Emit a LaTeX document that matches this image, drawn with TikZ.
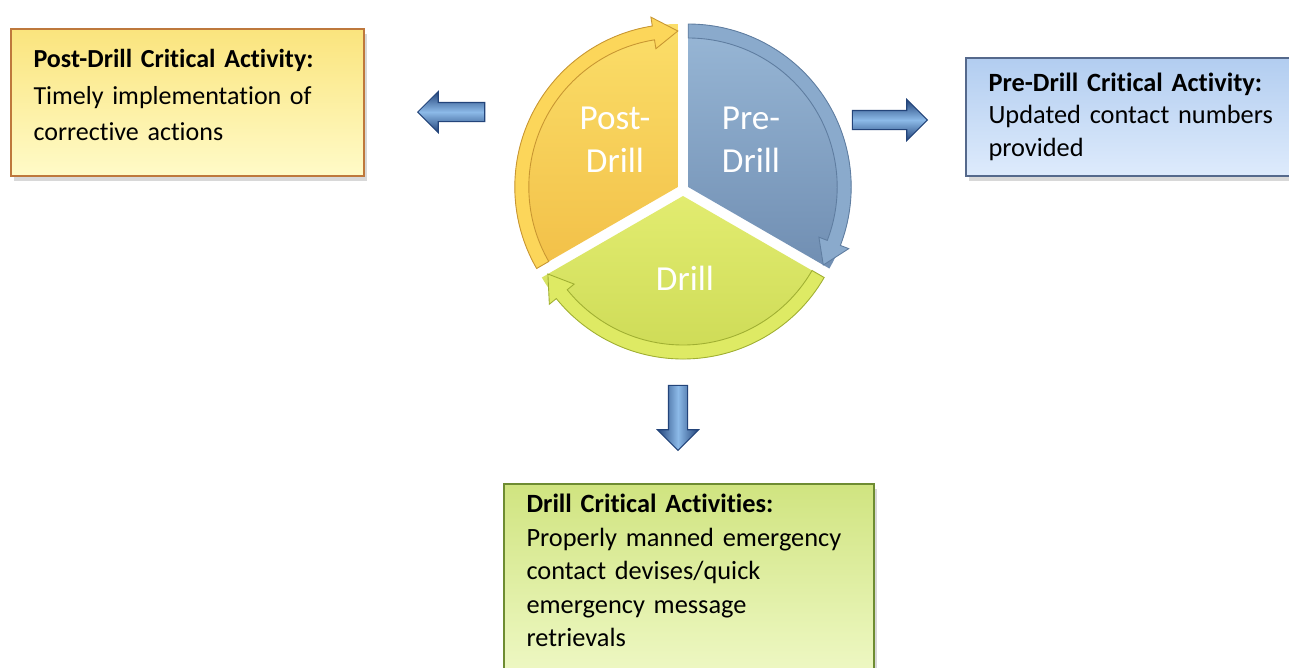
\documentclass[tikz,border=0pt]{standalone}
\usepackage{fontspec}
\setmainfont{Carlito}[Ligatures={NoCommon}]
\usepackage{xcolor}
\usetikzlibrary{shapes,arrows,positioning,calc,shadows}

\definecolor{postsegtop}{RGB}{251,222,105}
\definecolor{postsegbot}{RGB}{242,192,72}
\definecolor{postband}{RGB}{252,214,90}
\definecolor{postline}{RGB}{200,150,50}
\definecolor{presegtop}{RGB}{152,183,214}
\definecolor{presegbot}{RGB}{112,142,178}
\definecolor{preband}{RGB}{138,170,204}
\definecolor{preline}{RGB}{95,125,160}
\definecolor{drillsegtop}{RGB}{226,236,112}
\definecolor{drillsegbot}{RGB}{202,216,82}
\definecolor{drillband}{RGB}{222,234,100}
\definecolor{drillline}{RGB}{160,175,50}
\definecolor{arrowdark}{RGB}{35,68,122}
\definecolor{arrowlight}{RGB}{140,186,232}
\definecolor{postborder}{RGB}{190,120,60}
\definecolor{posttop}{RGB}{250,228,125}
\definecolor{postbot}{RGB}{255,251,200}
\definecolor{preborder}{RGB}{85,105,140}
\definecolor{pretop}{RGB}{178,205,240}
\definecolor{prebot}{RGB}{222,235,252}
\definecolor{drillborder}{RGB}{110,140,50}
\definecolor{drilltop}{RGB}{208,228,128}
\definecolor{drillbot}{RGB}{238,248,196}

\begin{document}
\begin{tikzpicture}[
    x=0.02cm, y=0.02cm,
    critbox/.style={rectangle, draw, line width=1.2pt, anchor=north west, align=left,
        inner xsep=0.45cm,
        drop shadow={opacity=0.3, shadow xshift=0.06cm, shadow yshift=-0.1cm}},
    postbox/.style={critbox, draw=postborder, top color=posttop, bottom color=postbot,
        font=\fontsize{14.8}{20.7}\selectfont},
    prebox/.style={critbox, draw=preborder, top color=pretop, bottom color=prebot,
        font=\fontsize{15}{18.5}\selectfont},
    drillbox/.style={critbox, draw=drillborder, top color=drilltop, bottom color=drillbot,
        font=\fontsize{15}{19.1}\selectfont},
    blockarrow/.style={single arrow, draw=arrowdark, line width=0.6pt, inner sep=0.18cm,
        minimum width=0.8cm, single arrow head extend=0.22cm},
    harrow/.style={blockarrow, top color=arrowdark, bottom color=arrowdark, middle color=arrowlight},
    varrow/.style={blockarrow, left color=arrowdark, right color=arrowdark, middle color=arrowlight},
    seglabel/.style={text=white, align=center, font=\fontsize{20}{24.4}\selectfont}
]
\useasboundingbox (0,0) rectangle (1289,-667);
\fill[white] (0,0) rectangle (1289,-667);

% Cycle segments (start angle / end angle / bisector / colours)
\foreach \a/\b/\bis/\ct/\cb/\cband/\cline in {
    210/90/150/postsegtop/postsegbot/postband/postline,
    90/-30/30/presegtop/presegbot/preband/preline,
    -30/-150/-90/drillsegtop/drillsegbot/drillband/drillline} {
  \begin{scope}[shift={($(683,-190)+(\bis:6)$)}]
    \shade[top color=\ct, bottom color=\cb] (0,0) -- (\a:163)
        arc[start angle=\a, end angle=\b, radius=163] -- cycle;
    \draw[fill=\cband, draw=\cline, line width=0.5pt] (\a:163)
        arc[start angle=\a, end angle=\b+9, radius=163] -- (\b+9:172) -- (\b:156)
        -- (\b+9:140) -- (\b+9:149)
        arc[start angle=\b+9, end angle=\a, radius=149] -- cycle;
  \end{scope}
}

\node[seglabel] (postlbl) at (615,-140) {Post-\\Drill};
\node[seglabel] (prelbl) at (751,-140) {Pre-\\Drill};
\node[seglabel] (drilllbl) at (685,-278) {Drill};

% Critical activity boxes
\node[postbox, text width=6.16cm, minimum height=2.94cm] (postact) at (10,-28)
    {\textbf{Post-Drill Critical Activity:}\\Timely implementation of\\corrective actions\rule[-0.3cm]{0pt}{0.3cm}};
\node[prebox, text width=5.7cm, minimum height=2.36cm] (preact) at (965,-57)
    {\textbf{Pre-Drill Critical Activity:}\\Updated contact numbers\\provided\rule[-0.1cm]{0pt}{0.1cm}};
\node[drillbox, text width=6.5cm, minimum height=3.8cm] (drillact) at (503,-483)
    {\textbf{Drill Critical Activities:}\\Properly manned emergency\\contact devises/quick\\emergency message\\retrievals\rule[-0.34cm]{0pt}{0.34cm}};

% Block arrows
\node[harrow, shape border rotate=180, minimum height=1.34cm] (topost) at (456,-112) {};
\node[harrow, minimum height=1.5cm] (topre) at (885,-120) {};
\node[varrow, shape border rotate=270, minimum height=1.3cm] (todrill) at (678,-413) {};

\end{tikzpicture}
\end{document}
